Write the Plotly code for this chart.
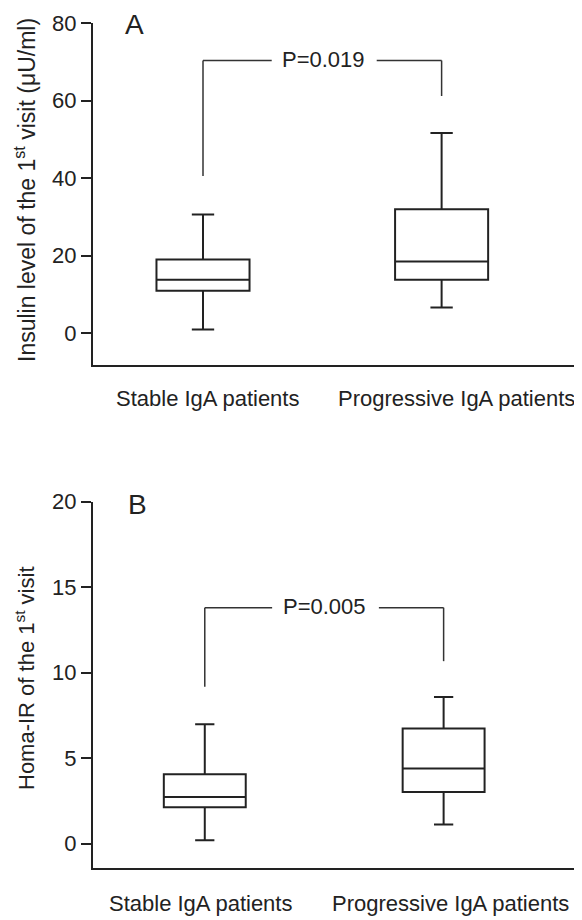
import plotly.graph_objects as go

categories = ["Stable IgA patients", "Progressive IgA patients"]

# Panel A: insulin level (μU/ml)
ins_q1 = [10.95, 13.8]
ins_median = [13.8, 18.5]
ins_q3 = [19.0, 32.0]
ins_low = [0.96, 6.6]
ins_high = [30.6, 51.7]
ins_ticks = [0, 20, 40, 60, 80]
ins_p = "P=0.019"
ins_bracket = [40.6, 70.4, 61.2]   # left end, top, right end

# Panel B: Homa-IR
homa_q1 = [2.13, 3.02]
homa_median = [2.73, 4.39]
homa_q3 = [4.06, 6.73]
homa_low = [0.19, 1.11]
homa_high = [6.98, 8.58]
homa_ticks = [0, 5, 10, 15, 20]
homa_p = "P=0.005"
homa_bracket = [9.17, 13.8, 10.67]

FONT = "Liberation Sans, Arial, sans-serif"
INK = "#222222"
OFF = 8            # page body margin
W, H = 582 - OFF, 920 - OFF
L = 93 - OFF
PW = 487

fig = go.Figure()

fig.add_trace(go.Box(
    x=categories, q1=ins_q1, median=ins_median, q3=ins_q3,
    lowerfence=ins_low, upperfence=ins_high,
    width=0.39, whiskerwidth=0.24, boxpoints=False,
    line=dict(color=INK, width=2), fillcolor="white",
    xaxis="x", yaxis="y", showlegend=False, hoverinfo="skip"))

fig.add_trace(go.Box(
    x=categories, q1=homa_q1, median=homa_median, q3=homa_q3,
    lowerfence=homa_low, upperfence=homa_high,
    width=0.343, whiskerwidth=0.235, boxpoints=False,
    line=dict(color=INK, width=2), fillcolor="white",
    xaxis="x2", yaxis="y2", showlegend=False, hoverinfo="skip"))

def dom(top_px, bot_px):
    return [(H - (bot_px - OFF)) / H, (H - (top_px - OFF)) / H]

common_y = dict(showline=True, linecolor=INK, linewidth=2, ticks="outside",
                ticklen=10, tickwidth=2, tickcolor=INK, showgrid=False,
                zeroline=False, automargin=False,
                tickfont=dict(family=FONT, size=22, color=INK))
common_x = dict(showline=True, linecolor=INK, linewidth=2, ticks="",
                showticklabels=False, showgrid=False, automargin=False,
                zeroline=False, type="category")

fig.update_layout(
    width=W, height=H,
    margin=dict(l=L, r=W - L - PW, t=0, b=0),
    paper_bgcolor="white", plot_bgcolor="white",
    xaxis=dict(domain=[0, 1], anchor="y", range=[-0.461, 1.58], **common_x),
    yaxis=dict(domain=dom(23.3, 364.5), anchor="x", range=[-8.1, 80],
               tickvals=ins_ticks, **common_y),
    xaxis2=dict(domain=[0, 1], anchor="y2", range=[-0.468, 1.571], **common_x),
    yaxis2=dict(domain=dom(501.7, 867.5), anchor="x2", range=[-1.4, 20],
                tickvals=homa_ticks, **common_y),
)

def bracket(xr, yr, b, ptext, gap_l, gap_r):
    ln = dict(color="#333333", width=1.5)
    fig.add_shape(type="line", xref=xr, yref=yr, x0=0, x1=0, y0=b[0], y1=b[1], line=ln)
    fig.add_shape(type="line", xref=xr, yref=yr, x0=0, x1=gap_l, y0=b[1], y1=b[1], line=ln)
    fig.add_shape(type="line", xref=xr, yref=yr, x0=gap_r, x1=1, y0=b[1], y1=b[1], line=ln)
    fig.add_shape(type="line", xref=xr, yref=yr, x0=1, x1=1, y0=b[1], y1=b[2], line=ln)
    fig.add_annotation(xref=xr, yref=yr, x=0.503, y=b[1], text=ptext, showarrow=False,
                       xanchor="center", yanchor="middle",
                       font=dict(family=FONT, size=22, color=INK), yshift=1)

bracket("x", "y", ins_bracket, ins_p, 0.288, 0.728)
bracket("x2", "y2", homa_bracket, homa_p, 0.282, 0.729)

def px_x(p):
    return (p - OFF - L) / PW

def px_y(p):
    return (H - (p - OFF)) / H

def label(x, y, text, size, angle=0):
    fig.add_annotation(xref="paper", yref="paper", x=px_x(x), y=px_y(y), text=text,
                       showarrow=False, xanchor="center", yanchor="middle",
                       textangle=angle, font=dict(family=FONT, size=size, color=INK))

label(134, 25, "A", 28)
label(137, 504, "B", 28)

label(25, 190, "Insulin level of the 1<sup>st</sup> visit (μU/ml)", 23, -90)
label(25, 678, "Homa-IR of the 1<sup>st</sup> visit", 22, -90)

# category labels
label(207, 398, categories[0], 22)
label(456, 398, categories[1], 22)
label(200, 903, categories[0], 22)
label(450, 903, categories[1], 22)

fig.write_html("out.html")
